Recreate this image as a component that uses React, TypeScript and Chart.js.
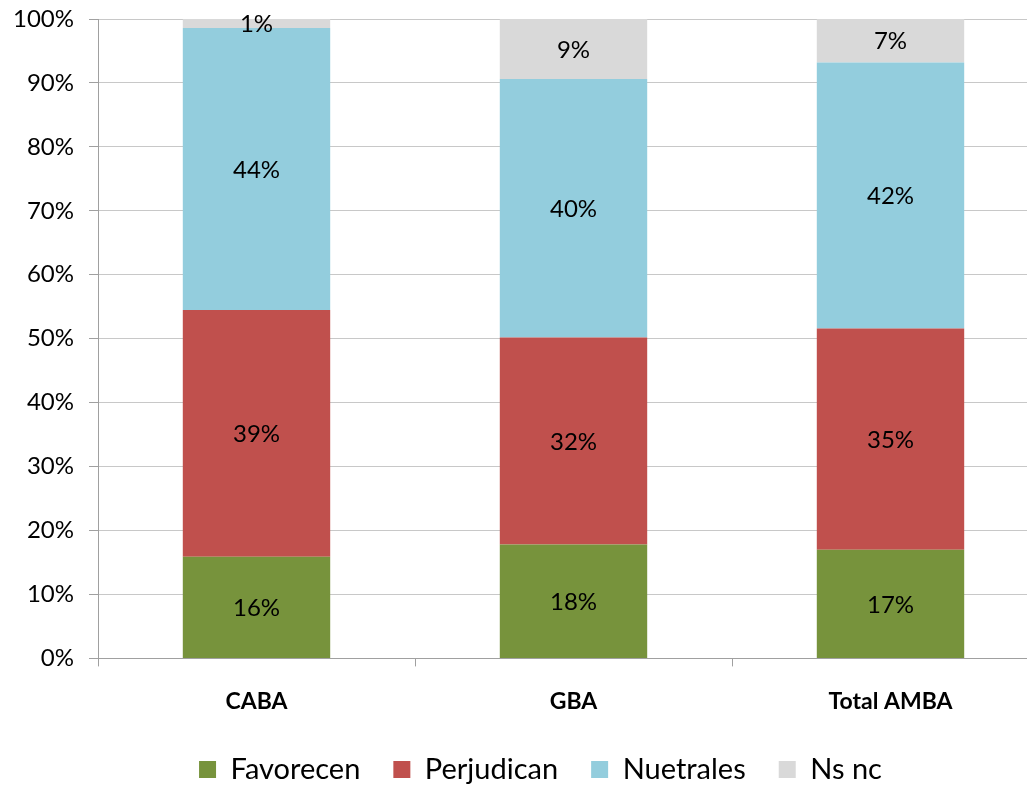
import React, { useEffect, useRef } from "react";
import { Chart, registerables } from "chart.js";

Chart.register(...registerables);

const categories = ["CABA", "GBA", "Total AMBA"];
const favorecen = [15.9, 17.8, 17.0];
const perjudican = [38.6, 32.4, 34.6];
const nuetrales = [44.1, 40.4, 41.6];
const nsnc = [1.4, 9.4, 6.8];
const seriesNames = ["Favorecen", "Perjudican", "Nuetrales", "Ns nc"];
const seriesColors = ["#77933c", "#c0504d", "#93cddd", "#d9d9d9"];
const yTicks = [0, 10, 20, 30, 40, 50, 60, 70, 80, 90, 100];

const FONT = "Lato, 'Open Sans', sans-serif";

const labelPlugin = {
  id: "segLabels",
  afterDatasetsDraw(chart: any) {
    const ctx = chart.ctx;
    ctx.save();
    ctx.font = `24px ${FONT}`;
    ctx.fillStyle = "#000";
    ctx.textAlign = "center";
    ctx.textBaseline = "middle";
    chart.data.datasets.forEach((ds: any, di: number) => {
      const meta = chart.getDatasetMeta(di);
      meta.data.forEach((el: any, i: number) => {
        const v = ds.data[i];
        const y = (el.y + el.base) / 2;
        ctx.fillText(`${Math.round(v)}%`, el.x, y + 1);
      });
    });
    ctx.restore();
  },
};

const legendShift = {
  id: "legendShift",
  afterLayout(chart: any) {
    if (chart.legend) {
      chart.legend.left += 12;
      chart.legend.right += 12;
    }
  },
};

export default function App() {
  const ref = useRef<HTMLCanvasElement>(null);
  useEffect(() => {
    if (!ref.current) return;
    const data = [favorecen, perjudican, nuetrales, nsnc];
    const chart = new Chart(ref.current, {
      type: "bar",
      data: {
        labels: categories,
        datasets: data.map((d, i) => ({
          label: seriesNames[i],
          data: d,
          backgroundColor: seriesColors[i],
          borderWidth: 0,
          categoryPercentage: 1,
          barPercentage: 0.465,
        })),
      },
      options: {
        responsive: false,
        animation: false,
        devicePixelRatio: 1,
        layout: { padding: { top: 11, left: 0, right: 21, bottom: -8 } },
        plugins: {
          tooltip: { enabled: false },
          legend: {
            position: "bottom",
            labels: {
              font: { family: FONT, size: 29 },
              color: "#000",
              boxWidth: 17,
              boxHeight: 17,
              padding: 33,
            },
          },
        },
        scales: {
          x: {
            stacked: true,
            offset: true,
            afterFit: (s: any) => {
              s.height = s.height - 14;
            },
            grid: {
              offset: true,
              drawOnChartArea: false,
              drawTicks: true,
              tickLength: 8,
              tickColor: "#a0a0a0",
            },
            border: { color: "#a0a0a0" },
            ticks: {
              font: { family: FONT, size: 23, weight: "bold" },
              color: "#000",
              padding: 21,
            },
          },
          y: {
            stacked: true,
            min: 0,
            max: 100,
            afterFit: (s: any) => {
              s.width = 90;
              s.paddingTop = 0;
              s.paddingBottom = 0;
            },
            afterBuildTicks: (s: any) => {
              s.ticks = yTicks.map((v) => ({ value: v }));
            },
            grid: {
              color: "#c8c8c8",
              tickColor: "#a0a0a0",
              tickLength: 9,
            },
            border: { color: "#a0a0a0" },
            ticks: {
              font: { family: FONT, size: 24 },
              color: "#000",
              padding: 15,
              callback: (v: any) => `${v}%`,
            },
          },
        },
      },
      plugins: [labelPlugin, legendShift],
    } as any);
    return () => chart.destroy();
  }, []);
  return (
    <div style={{ width: 1027, height: 778, overflow: "hidden" }}>
      <canvas ref={ref} width={1062} height={778} style={{ width: 1062, height: 778, display: "block" }} />
    </div>
  );
}
